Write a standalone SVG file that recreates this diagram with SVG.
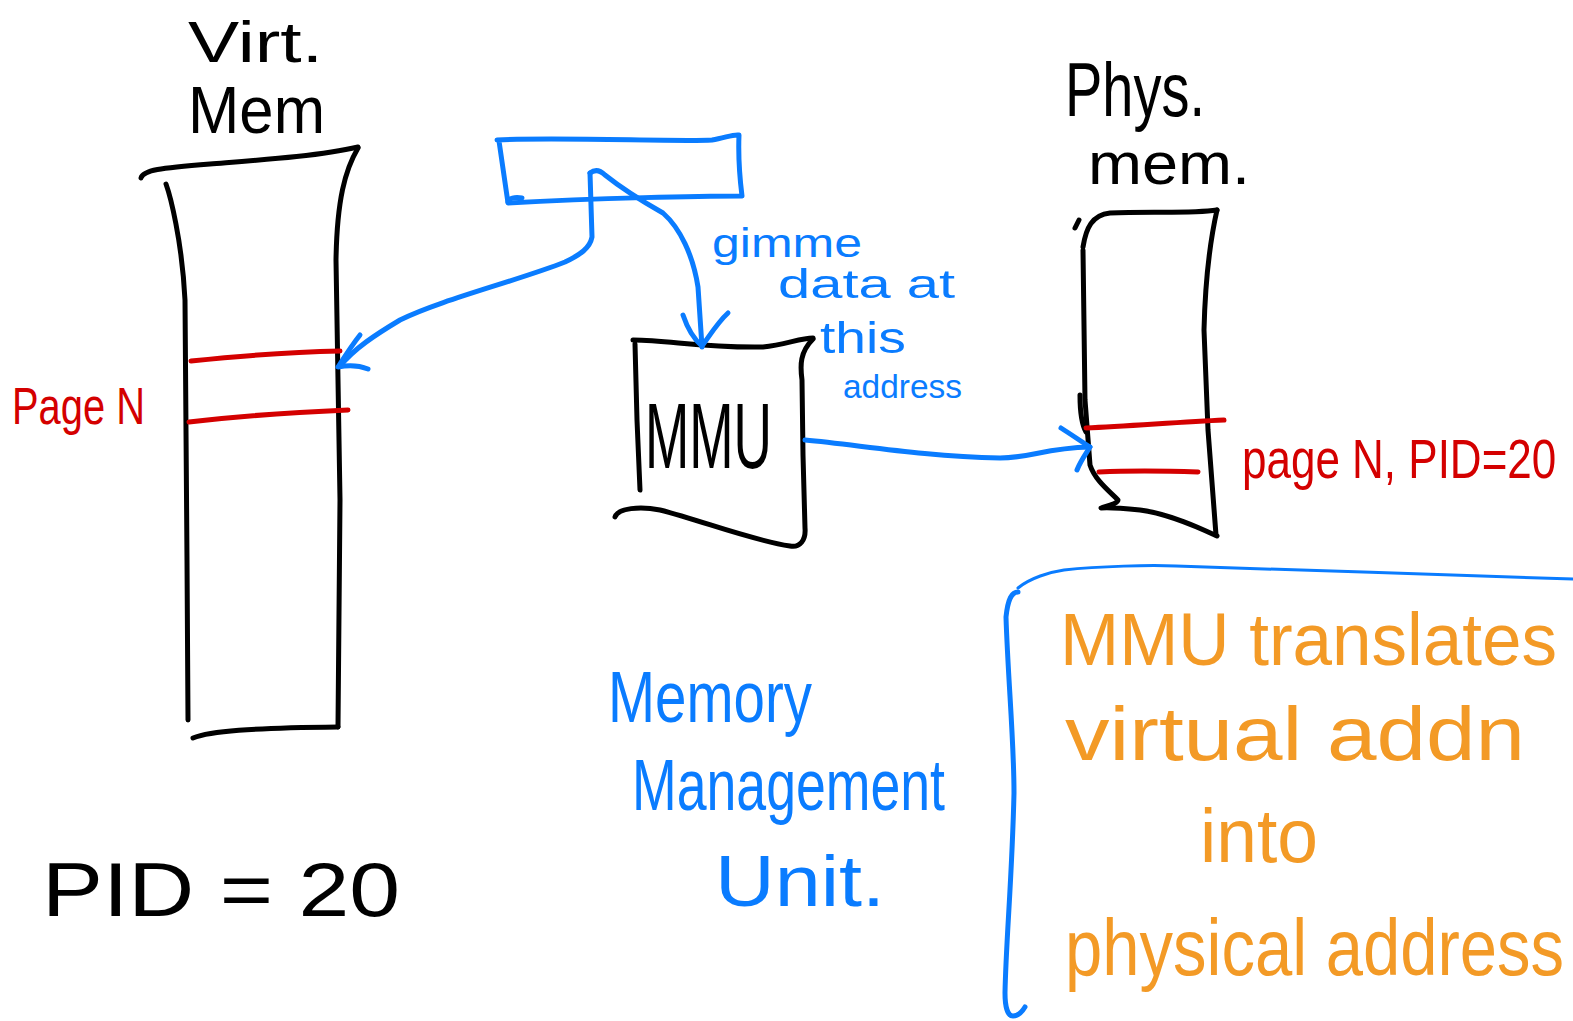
<svg xmlns="http://www.w3.org/2000/svg" width="1573" height="1021" viewBox="0 0 1573 1021">
  <style>
    .ln { fill: none; stroke-linecap: round; stroke-linejoin: round; }
    .k { stroke: #000; stroke-width: 5; }
    .b { stroke: #0a7cff; stroke-width: 5; }
    .bt { stroke: #0a7cff; stroke-width: 3; }
    .r { stroke: #d40000; stroke-width: 5; }
    text { font-family: "Liberation Sans", "DejaVu Sans", sans-serif; }
    .tk { fill: #000; }
    .tb { fill: #0a7cff; }
    .tr { fill: #d40000; }
    .to { fill: #f39a26; }
  </style>
  <rect width="1573" height="1021" fill="#fff"/>

  <!-- virtual memory column -->
  <g id="virt-mem">
    <text class="tk" x="188" y="62" font-size="58" textLength="135" lengthAdjust="spacingAndGlyphs">Virt.</text>
    <text class="tk" x="188" y="133" font-size="66" textLength="137" lengthAdjust="spacingAndGlyphs">Mem</text>
    <path class="ln k" d="M141,178 C143,170 160,168 210,164 S320,156 358,147"/>
    <path class="ln k" d="M358,148 C345,170 337,200 336,260 L340,500 L338,727"/>
    <path class="ln k" d="M166,184 C170,195 182,240 185,300 L187,560 L188,720"/>
    <path class="ln k" d="M193,738 C210,731 250,728 338,727"/>
    <path class="ln r" d="M191,361 C240,356 290,352 340,351"/>
    <path class="ln r" d="M189,422 C240,416 300,412 348,410"/>
    <text class="tr" x="12" y="424" font-size="52" textLength="133" lengthAdjust="spacingAndGlyphs">Page N</text>
  </g>

  <!-- address register -->
  <g id="addr-box">
    <path class="ln b" d="M497,140 C560,137 680,142 712,140 C725,138 733,134 739,135 C738,160 740,180 742,196 C700,196 600,198 508,203 L499,141"/>
    <path class="ln b" d="M508,202 C508,198 515,197 522,198"/>
  </g>

  <!-- MMU -->
  <g id="mmu">
    <path class="ln k" d="M633,340 C670,340 700,348 763,347 C785,345 800,338 813,338"/>
    <path class="ln k" d="M813,339 C800,352 800,365 802,380 L803,455 L805,528 C806,540 800,548 790,546 C750,540 700,520 660,510 C640,506 618,508 615,517"/>
    <path class="ln k" d="M635,344 L637,420 L640,490"/>
    <text class="tk" x="645" y="468" font-size="92" textLength="127" lengthAdjust="spacingAndGlyphs">MMU</text>
    <text class="tb" x="712" y="257" font-size="40" textLength="150" lengthAdjust="spacingAndGlyphs">gimme</text>
    <text class="tb" x="778" y="298" font-size="40" textLength="177" lengthAdjust="spacingAndGlyphs">data at</text>
    <text class="tb" x="820" y="353" font-size="44" textLength="86" lengthAdjust="spacingAndGlyphs">this</text>
    <text class="tb" x="843" y="398" font-size="34" textLength="119" lengthAdjust="spacingAndGlyphs">address</text>
  </g>

  <!-- physical memory column -->
  <g id="phys-mem">
    <text class="tk" x="1065" y="116" font-size="76" textLength="140" lengthAdjust="spacingAndGlyphs">Phys.</text>
    <text class="tk" x="1088" y="184" font-size="60" textLength="162" lengthAdjust="spacingAndGlyphs">mem.</text>
    <path class="ln k" d="M1075,228 L1079,220"/>
    <path class="ln k" d="M1083,247 C1086,228 1092,215 1110,213 C1150,211 1190,214 1217,210"/>
    <path class="ln k" d="M1217,210 C1208,250 1205,290 1204,330 L1208,430 L1216,535"/>
    <path class="ln k" d="M1217,536 C1200,528 1170,514 1140,510 C1120,508 1108,507 1101,508 C1110,505 1118,503 1118,500 C1108,490 1095,480 1090,465 L1085,400 L1083,250"/>
    <path class="ln k" d="M1080,395 C1080,410 1082,425 1086,432"/>
    <path class="ln r" d="M1086,428 C1130,426 1180,422 1224,420"/>
    <path class="ln r" d="M1099,472 C1140,470 1170,471 1198,472"/>
    <text class="tr" transform="translate(1242,478) scale(1,1.25)" font-size="44">page N, PID=20</text>
  </g>

  <!-- process id -->
  <g id="pid">
    <text class="tk" x="42" y="916" font-size="76" textLength="358" lengthAdjust="spacingAndGlyphs">PID = 20</text>
  </g>

  <!-- MMU caption -->
  <g id="mmu-caption">
    <text class="tb" x="608" y="722" font-size="72" textLength="204" lengthAdjust="spacingAndGlyphs">Memory</text>
    <text class="tb" x="632" y="810" font-size="72" textLength="313" lengthAdjust="spacingAndGlyphs">Management</text>
    <text class="tb" x="715" y="906" font-size="72" textLength="170" lengthAdjust="spacingAndGlyphs">Unit.</text>
  </g>

  <!-- note in bracket -->
  <g id="note">
    <path class="ln bt" d="M1018,588 C1030,578 1050,572 1064,570 C1100,566 1150,565 1176,566 C1300,569 1450,576 1573,579"/>
    <path class="ln b" d="M1018,592 C1012,592 1008,598 1006,617 C1008,680 1014,740 1014,793 C1012,880 1006,940 1005,993 C1005,1008 1008,1016 1013,1016 C1018,1016 1022,1012 1025,1007"/>
    <text class="to" transform="translate(1060,665) scale(1,1.05)" font-size="71">MMU translates</text>
    <text class="to" x="1065" y="760" font-size="76" textLength="460" lengthAdjust="spacingAndGlyphs">virtual addn</text>
    <text class="to" x="1200" y="862" font-size="76" textLength="118" lengthAdjust="spacingAndGlyphs">into</text>
    <text class="to" transform="translate(1065,975) scale(1,1.2)" font-size="67">physical address</text>
  </g>

  <!-- connectors -->
  <g id="connectors">
    <path class="ln b" d="M590,173 L592,237 C590,248 580,255 565,262 C520,280 440,300 400,320 C375,335 355,348 340,366"/>
    <path class="ln b" d="M360,335 C352,345 345,356 338,367 C348,365 358,365 368,369"/>
    <path class="ln b" d="M590,173 C595,169 600,170 605,175 C620,187 640,200 663,213 C680,228 693,255 698,287 L702,347"/>
    <path class="ln b" d="M683,315 C688,330 695,340 702,346 C710,335 718,322 728,313"/>
    <path class="ln b" d="M805,440 C860,445 920,456 1000,458 C1030,458 1045,448 1090,447"/>
    <path class="ln b" d="M1061,428 C1072,435 1082,442 1090,447 C1085,455 1080,462 1077,470"/>
  </g>
</svg>
